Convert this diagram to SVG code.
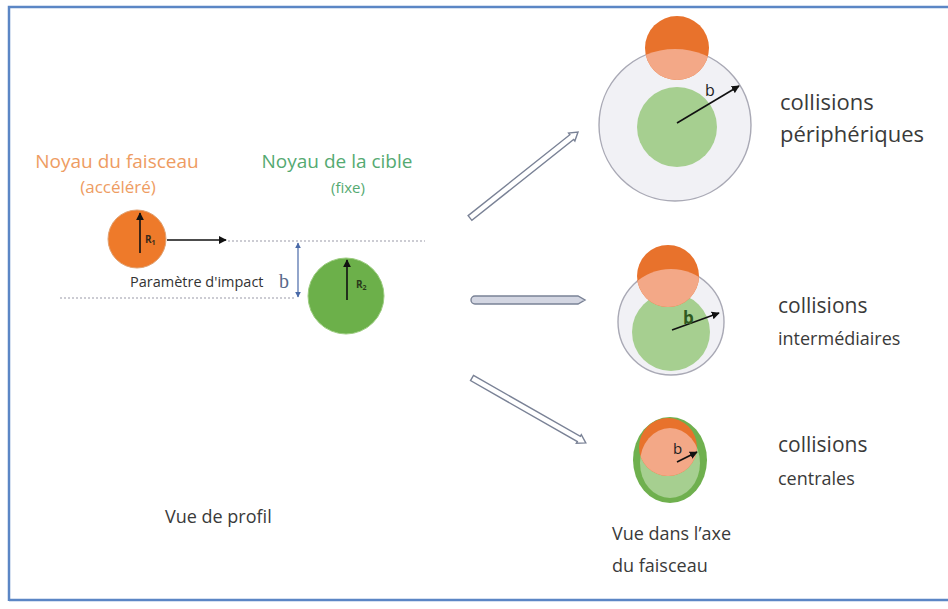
<svg xmlns="http://www.w3.org/2000/svg" width="948" height="609" viewBox="0 0 948 609">
<style>
  .t { font-family: "Open Sans", "Liberation Sans", sans-serif; fill: #3a3a3a; }
  .big { font-size: 22px; }
  .mid { font-size: 18px; }
  .outer { fill: #f1f1f5; stroke: #a9a9b5; stroke-width: 1.4; }
  .lg { fill: #a6cf90; }
  .dor { fill: #e8722c; }
  .sal { fill: #f3a887; }
  .barrow { stroke: #111; stroke-width: 1.6; fill: none; marker-end: url(#ah); }
  .hollow { fill: #ffffff; stroke: #7a8296; stroke-width: 1.4; }
  .dots { stroke: #9a9aa8; stroke-width: 1.2; stroke-dasharray: 2 2; fill: none; }
</style>
<defs>
  <marker id="ah" viewBox="0 0 10 10" refX="9" refY="5" markerWidth="5" markerHeight="5" orient="auto">
    <path d="M0,0 L10,5 L0,10 Z" fill="#111"/>
  </marker>
  <marker id="ahb" viewBox="0 0 10 10" refX="9" refY="5" markerWidth="5" markerHeight="5" orient="auto-start-reverse">
    <path d="M0,0 L10,5 L0,10 Z" fill="#4a6aa8"/>
  </marker>
  <clipPath id="c1"><circle cx="675" cy="125" r="76"/></clipPath>
  <clipPath id="c2"><circle cx="671" cy="322" r="53"/></clipPath>
  <clipPath id="c3"><ellipse cx="670" cy="463" rx="30" ry="35"/></clipPath>
</defs>
<rect x="0" y="0" width="948" height="609" fill="#ffffff"/>
<path d="M9,601 V7 H948 M9,600 H948" fill="none" stroke="#5b86c5" stroke-width="2.5"/>

<g id="profile-view">
  <g id="beam-label">
    <text x="117" y="168" text-anchor="middle" font-family="Open Sans, Liberation Sans, sans-serif" font-size="19" fill="#ee9c62">Noyau du faisceau</text>
    <text x="118" y="193" text-anchor="middle" font-family="Open Sans, Liberation Sans, sans-serif" font-size="17" fill="#ee9c62">(accéléré)</text>
  </g>
  <g id="target-label">
    <text x="337" y="168" text-anchor="middle" font-family="Open Sans, Liberation Sans, sans-serif" font-size="19" fill="#55aa72">Noyau de la cible</text>
    <text x="348" y="193" text-anchor="middle" font-family="Open Sans, Liberation Sans, sans-serif" font-size="15" fill="#55aa72">(fixe)</text>
  </g>
  <g id="beam-nucleus">
    <circle cx="137" cy="239" r="29" fill="#ee7a2a" stroke="#e0a070" stroke-width="1"/>
    <line x1="140" y1="253" x2="140" y2="213" class="barrow" stroke="#7a4a20"/>
    <text x="145" y="243" font-family="Open Sans, Liberation Sans, sans-serif" font-size="10" font-weight="bold" fill="#3a2a1a">R<tspan font-size="7" dy="2">1</tspan></text>
  </g>
  <g id="target-nucleus">
    <circle cx="346" cy="296" r="38" fill="#6cb04a" stroke="#9ccc80" stroke-width="1"/>
    <line x1="347" y1="300" x2="347" y2="260" class="barrow" stroke="#2a4a20"/>
    <text x="356" y="288" font-family="Open Sans, Liberation Sans, sans-serif" font-size="10" font-weight="bold" fill="#2a3a1a">R<tspan font-size="7" dy="2">2</tspan></text>
  </g>
  <g id="impact-parameter">
    <text x="130" y="287" font-family="Open Sans, Liberation Sans, sans-serif" font-size="14.5" fill="#333">Paramètre d'impact</text>
    <text x="279" y="288" font-family="Liberation Serif, serif" font-size="20" fill="#5a6a8a">b</text>
  </g>
  <text id="profile-caption" class="t mid" x="165" y="523">Vue de profil</text>
</g>

<g id="connectors">
  <line x1="167" y1="240" x2="226" y2="240" class="barrow" stroke="#333" stroke-width="2"/>
  <line x1="228" y1="241" x2="425" y2="241" class="dots"/>
  <line x1="60" y1="298" x2="296" y2="298" class="dots"/>
  <line x1="298" y1="243" x2="298" y2="297" stroke="#4a6aa8" stroke-width="1.2" marker-start="url(#ahb)" marker-end="url(#ahb)"/>
  <path class="hollow" transform="translate(470,218) rotate(-38.5)" d="M0,-3 H130 V-5 L138,0 L130,5 V3 H0 Z"/>
  <path class="hollow" transform="translate(472,300)" d="M3,-4 H106 L113,0 L106,4 H3 A4,4 0 0 1 3,-4 Z" style="fill:#d3d6e2"/>
  <path class="hollow" transform="translate(472,378) rotate(29.7)" d="M0,-3 H123 V-5 L131,0 L123,5 V3 H0 Z"/>
</g>

<g id="peripheral">
  <circle class="outer" cx="675" cy="125" r="76"/>
  <circle class="lg" cx="677" cy="127" r="40"/>
  <circle class="dor" cx="677" cy="48" r="32"/>
  <circle class="sal" cx="677" cy="48" r="32" clip-path="url(#c1)"/>
  <line x1="677" y1="123" x2="739" y2="86" class="barrow"/>
  <text x="705" y="96" font-family="Open Sans, Liberation Sans, sans-serif" font-size="16" fill="#222">b</text>
  <text class="t big" x="780" y="110">collisions</text>
  <text class="t big" x="780" y="142">périphériques</text>
</g>

<g id="intermediate">
  <circle class="outer" cx="671" cy="322" r="53"/>
  <circle class="lg" cx="671" cy="332" r="39"/>
  <circle class="dor" cx="668" cy="276" r="31"/>
  <circle class="sal" cx="668" cy="276" r="31" clip-path="url(#c2)"/>
  <line x1="672" y1="330" x2="719" y2="313" class="barrow"/>
  <text x="683" y="324" font-family="Open Sans, Liberation Sans, sans-serif" font-size="17" font-weight="bold" fill="#2f5a1f">b</text>
  <text class="t" font-size="21" x="778" y="313">collisions</text>
  <text class="t" font-size="18" x="778" y="345">intermédiaires</text>
</g>

<g id="central">
  <ellipse cx="670" cy="460" rx="37" ry="43" fill="#6fb04e"/>
  <ellipse cx="670" cy="463" rx="30" ry="35" class="lg"/>
  <circle class="dor" cx="668" cy="447" r="29"/>
  <circle class="sal" cx="668" cy="447" r="29" clip-path="url(#c3)"/>
  <line x1="677" y1="462" x2="697" y2="452" class="barrow"/>
  <text x="673" y="454" font-family="Open Sans, Liberation Sans, sans-serif" font-size="15" fill="#222">b</text>
  <text class="t" font-size="21" x="778" y="452">collisions</text>
  <text class="t" font-size="18" x="778" y="485">centrales</text>
  <text class="t mid" x="612" y="540">Vue dans l’axe</text>
  <text class="t mid" x="612" y="572">du faisceau</text>
</g>
</svg>
